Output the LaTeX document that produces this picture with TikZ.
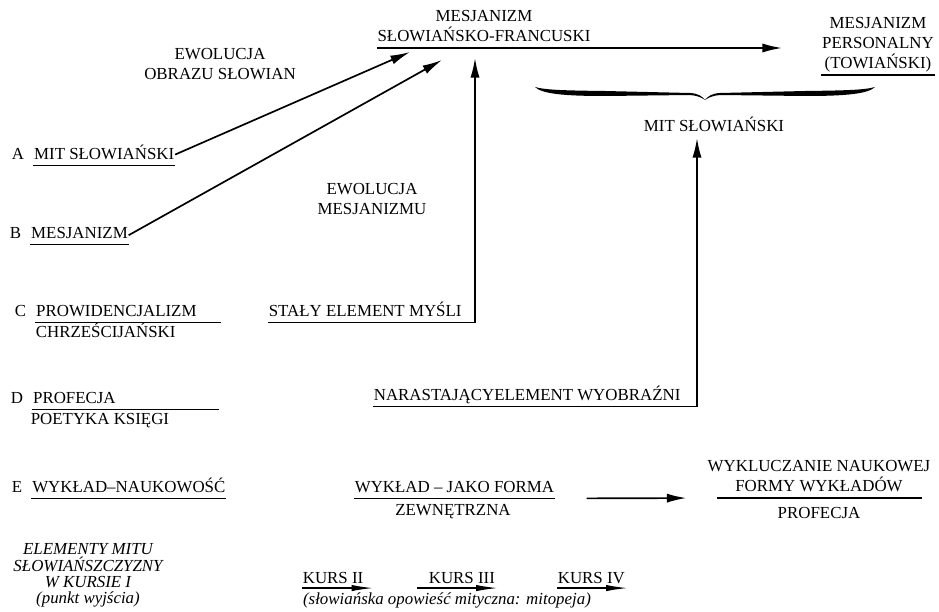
\documentclass[tikz,border=0pt]{standalone}
\usepackage{fontspec}
\setmainfont{Liberation Serif}
\usetikzlibrary{arrows.meta,positioning,calc}

\begin{document}
\begin{tikzpicture}[
  x=0.025cm, y=-0.025cm,
  >={Latex[length=14pt,width=6.5pt]},
  line width=1.2pt,
  every node/.style={inner sep=0pt, font=\fontsize{12}{14.2}\selectfont},
  word/.style={anchor=base west, text depth=4pt},
  block/.style={align=center, anchor=south, text depth=4pt},
  note/.style={align=center, font=\fontsize{12}{11.6}\selectfont\itshape},
  kursarrow/.style={-{Latex[length=16pt,width=4.5pt]}}
]
\useasboundingbox (0,0) rectangle (939,611);

% top: the two kinds of mesjanizm
\node[block] (mesSF) at (484,48) {MESJANIZM\\SŁOWIAŃSKO-FRANCUSKI};
\node[block] (mesPers) at (878,75) {MESJANIZM\\PERSONALNY\\(TOWIAŃSKI)};
\coordinate (tipP) at (782,48);
\draw[->] (mesSF.south west) -- (mesSF.south west -| tipP);
\draw (mesPers.south west) -- (mesPers.south east);

% brace over both
\foreach \s in {1,-1}
  \fill[shift={(705,0)}, xscale=\s]
    (-170,87) .. controls (-160,90) and (-140,90.5) .. (-100,91)
    -- (-15,93) .. controls (-7,93.5) and (-3,96) .. (0,100)
    .. controls (-4,97) and (-9,95.5) .. (-15,95)
    -- (-100,96) .. controls (-140,96) and (-163,94) .. (-170,87) -- cycle;
\node[block] (mitR) at (714,138) {MIT SŁOWIAŃSKI};

% evolutions
\node[block] (ewoObr) at (220,86) {EWOLUCJA\\OBRAZU SŁOWIAN};
\node[block] (ewoMes) at (372,221) {EWOLUCJA\\MESJANIZMU};

% left column A--E
\node[anchor=base west] (labA) at (11,159) {A};
\node[word, base right=6pt of labA] (mitA) {MIT SŁOWIAŃSKI};
\node[anchor=base west] (labB) at (9,238) {B};
\node[word, base right=6pt of labB] (mesB) {MESJANIZM};
\node[anchor=base west] (labC) at (14,316) {C};
\node[word, base right=6pt of labC] (provC) {PROWIDENCJALIZM};
\node[anchor=base west] (chrzC) at (35,337) {CHRZEŚCIJAŃSKI};
\node[anchor=base west] (labD) at (10,403) {D};
\node[word, base right=6pt of labD] (profD) {PROFECJA};
\node[anchor=base west] (poetD) at (30,424) {POETYKA KSIĘGI};
\node[anchor=base west] (labE) at (11,492) {E};
\node[word, base right=6pt of labE] (wykE) {WYKŁAD--NAUKOWOŚĆ};

\draw (mitA.south west) -- (mitA.south east);
\draw (mesB.south west) -- (mesB.south east);
\draw (provC.south west) -- ($(provC.south west)+(186,0)$);
\draw (profD.south west) -- ($(profD.south west)+(187,0)$);
\draw (wykE.south west) -- (wykE.south east);

\coordinate (tipA) at (410,52);
\coordinate (tipB) at (442,60);
\draw[->] (mitA.east) -- (tipA);
\draw[->] (mesB.east) -- (tipB);

% constant and growing elements
\node[word] (staly) at (268,316) {STAŁY ELEMENT MYŚLI};
\node[word] (narast) at (373,400) {NARASTAJĄCYELEMENT WYOBRAŹNI};
\coordinate (tipS) at (475,58);
\coordinate (tipN) at (697,138);
\draw[->] (staly.south west) -- (staly.south west -| tipS) -- (tipS);
\draw[->] (narast.south west) -- (narast.south west -| tipN) -- (tipN);

% lecture form
\node[word] (wykForma) at (354,492) {WYKŁAD -- JAKO FORMA};
\node[anchor=base] (zewn) at (453,515) {ZEWNĘTRZNA};
\node[block] (wyklucz) at (819,498) {WYKLUCZANIE NAUKOWEJ\\FORMY WYKŁADÓW};
\node[anchor=base] (profE) at (819,518) {PROFECJA};
\draw (wykForma.south west) -- (wykForma.south east);
\draw ($(wyklucz.south)-(102,0)$) -- ($(wyklucz.south)+(103,0)$);
\draw[->, shorten <=22.5pt, shorten >=14.5pt] (wykForma.south east) -- (wyklucz.south west);

% courses
\node[note, anchor=north] (elem) at (88,543) {ELEMENTY MITU\\SŁOWIAŃSZCZYZNY\\W KURSIE I\\(punkt wyjścia)};
\node[word, text depth=3pt] (kurs2) at (302,583) {KURS II};
\node[word, text depth=3pt] (kurs3) at (428,583) {KURS III};
\node[word, text depth=3pt] (kurs4) at (557,583) {KURS IV};
\draw[kursarrow, shorten >=-7pt] (kurs2.south west) -- (kurs2.south east);
\draw[kursarrow, shorten <=-8pt, shorten >=-2pt] (kurs3.south west) -- (kurs3.south east);
\draw[kursarrow, shorten >=-2pt] (kurs4.south west) -- (kurs4.south east);
\node[anchor=base, font=\fontsize{12}{12}\selectfont\itshape] (opow) at (447,604) {(słowiańska opowieść mityczna: mitopeja)};

\end{tikzpicture}
\end{document}
